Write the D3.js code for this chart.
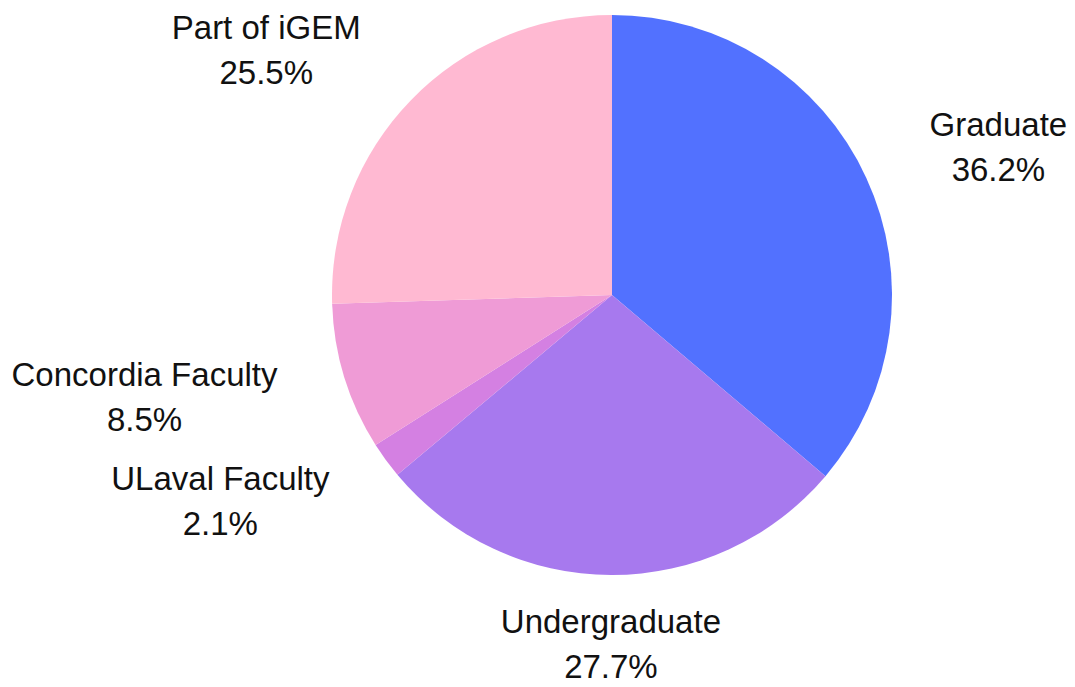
<!DOCTYPE html>
<html>
<head>
<meta charset="utf-8">
<script src="https://cdn.jsdelivr.net/npm/d3@7"></script>
<style>
	body { margin: 0; background: #fff; }
	svg { display: block; }
	.c-pie__label { font-family: "Liberation Sans", Arial, sans-serif; font-size: 33px; fill: #111; }
</style>
</head>
<body>
<svg id="chart" width="1075" height="687"></svg>
<script>
var categories = ["Graduate", "Undergraduate", "ULaval Faculty", "Concordia Faculty", "Part of iGEM"];
var values = [36.2, 27.7, 2.1, 8.5, 25.5];
var colors = ["#5271ff", "#a779ee", "#d480e2", "#ef9bd6", "#ffb9d2"];

var width = 1075, height = 687,
	cx = 612, cy = 295,
	radius = 280,
	labelRadius = 350,
	lineGap = 45,
	minSpacing = 102;

var svg = d3.select("#chart");

var pie = d3.pie().sort(null).value(function(d){ return d.value; });
var arc = d3.arc().innerRadius(0).outerRadius(radius);
var labelArc = d3.arc().innerRadius(labelRadius).outerRadius(labelRadius);

var data = pie(categories.map(function(c, i){
	return {name: c, value: values[i], color: colors[i]};
}));

var g = svg.append("g").attr("transform", "translate(" + cx + "," + cy + ")");

//Slices
g.selectAll("path")
	.data(data)
	.enter().append("path")
	.attr("d", arc)
	.attr("fill", function(d){ return d.data.color; });

//Label anchors on the label circle
var labels = data.map(function(d){
	var c = labelArc.centroid(d);
	return {d: d, x: c[0], y: c[1]};
});

//Push overlapping labels apart on each side, keep them on the circle
["left", "right"].forEach(function(side){
	var group = labels.filter(function(l){ return side === "left" ? l.x < -20 : l.x > 20; })
		.sort(function(a, b){ return a.y - b.y; });
	for (var i = 1; i < group.length; i++){
		if (group[i].y - group[i - 1].y < minSpacing){
			group[i].y = group[i - 1].y + minSpacing;
			var dx = Math.sqrt(Math.max(0, labelRadius * labelRadius - group[i].y * group[i].y));
			group[i].x = side === "left" ? -dx : dx;
		}
	}
});

labels.forEach(function(l){
	var t = g.append("text")
		.attr("class", "c-pie__label")
		.attr("text-anchor", "middle");

	var name = t.append("tspan").text(l.d.data.name);
	var pct = t.append("tspan").text(l.d.data.value.toFixed(1) + "%");

	var blockW = Math.max(name.node().getComputedTextLength(), pct.node().getComputedTextLength());
	var mid = l.x;
	if (l.x > 20) mid = l.x + blockW / 2;
	else if (l.x < -20) mid = l.x - blockW / 2;

	name.attr("x", mid).attr("y", l.y - 12);
	pct.attr("x", mid).attr("y", l.y - 12 + lineGap);
});
</script>
</body>
</html>
